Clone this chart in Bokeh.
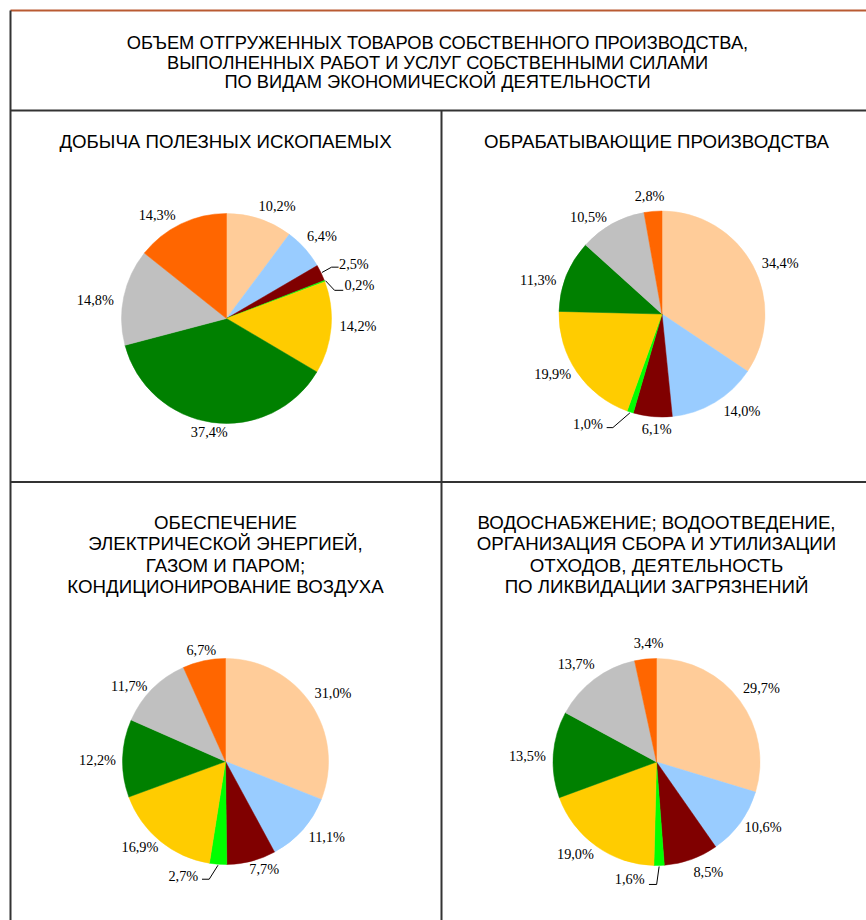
import math
from bokeh.plotting import figure
from bokeh.models import Range1d
from bokeh.core.properties import value
from bokeh.embed import file_html
from bokeh.resources import INLINE

# ---------------- data ----------------
main_title = [
    "ОБЪЕМ ОТГРУЖЕННЫХ ТОВАРОВ СОБСТВЕННОГО ПРОИЗВОДСТВА,",
    "ВЫПОЛНЕННЫХ РАБОТ И УСЛУГ СОБСТВЕННЫМИ СИЛАМИ",
    "ПО ВИДАМ ЭКОНОМИЧЕСКОЙ ДЕЯТЕЛЬНОСТИ",
]
panel_titles = [
    ["ДОБЫЧА ПОЛЕЗНЫХ ИСКОПАЕМЫХ"],
    ["ОБРАБАТЫВАЮЩИЕ ПРОИЗВОДСТВА"],
    ["ОБЕСПЕЧЕНИЕ", "ЭЛЕКТРИЧЕСКОЙ ЭНЕРГИЕЙ,", "ГАЗОМ И ПАРОМ;", "КОНДИЦИОНИРОВАНИЕ ВОЗДУХА"],
    ["ВОДОСНАБЖЕНИЕ; ВОДООТВЕДЕНИЕ,", "ОРГАНИЗАЦИЯ СБОРА И УТИЛИЗАЦИИ",
     "ОТХОДОВ, ДЕЯТЕЛЬНОСТЬ", "ПО ЛИКВИДАЦИИ ЗАГРЯЗНЕНИЙ"],
]
mining = [10.2, 6.4, 2.5, 0.2, 14.2, 37.4, 14.8, 14.3]
manufacturing = [34.4, 14.0, 6.1, 1.0, 19.9, 11.3, 10.5, 2.8]
energy = [31.0, 11.1, 7.7, 2.7, 16.9, 12.2, 11.7, 6.7]
water = [29.7, 10.6, 8.5, 1.6, 19.0, 13.5, 13.7, 3.4]
series = [mining, manufacturing, energy, water]
slice_colors = ["#FFCC99", "#99CCFF", "#800000", "#00FF00",
                "#FFCC00", "#008000", "#C0C0C0", "#FF6600"]

# ---------------- layout (page pixel coordinates) ----------------
W, H = 866, 920


def X(px):
    return px


def Y(py):
    return H - py


panels = [
    dict(cx=226, cy=318, r=105, tx=225, ty=141),
    dict(cx=661.5, cy=313.5, r=103, tx=656, ty=141),
    dict(cx=225, cy=761, r=103, tx=225, ty=521.5),
    dict(cx=656, cy=761.5, r=103.5, tx=656, ty=521.5),
]
# leader-line labels: (panel, slice) -> elbow dx,dy ; tail dx ; text dx,dy ; align
leaders = {
    (0, 2): (9.6, -5.3, 16.6, 17, -8, "left"),
    (0, 3): (9.0, 9.6, 17.7, 19, 4.6, "left"),
    (1, 3): (-17, 14.7, -23.2, -27, 11.4, "right"),
    (2, 3): (-8.8, 14, -16, -19.8, 10.3, "right"),
    (3, 3): (-2.5, 18, -10.2, -14.5, 13, "right"),
}
# small best-fit nudges (px) of the outside labels, per panel, per slice
nudges = [
    [(9, -1), (-3, -4), None, None, (0, -3), (1, -3), (-2, 6), (-12, 3)],
    [(3.5, 4), (13, -2), (6.5, -1), None, (-2, -6), (-3, 9.5), (-10.5, 4), (-1, -2)],
    [(0, -3.5), (4, -1), (6, -5), None, (-3, -4), (2, 2), (-4, 6), (3, 1.5)],
    [(0, -4.5), (1, -3), (8, 0), None, (-5, -3), (1, 2), (-2, -5), (6, -3)],
]

SANS = value("Liberation Sans")
SERIF = value("Liberation Serif")
LABEL_SIZE = "14.3px"

p = figure(width=W, height=H, output_backend="svg", toolbar_location=None,
           x_range=Range1d(0, W), y_range=Range1d(0, H), min_border=0,
           outline_line_color=None, background_fill_color="white")
p.axis.visible = False
p.grid.visible = False

# ---------------- table borders ----------------
p.segment(x0=[X(10)], y0=[Y(10)], x1=[X(866)], y1=[Y(10)], line_color="#B95A32", line_width=2)
p.segment(x0=[X(10)], y0=[Y(10)], x1=[X(10)], y1=[Y(920)], line_color="#333333", line_width=2)
p.segment(x0=[X(10), X(10)], y0=[Y(110), Y(481.5)], x1=[X(866), X(866)], y1=[Y(110), Y(481.5)],
          line_color="#333333", line_width=2)
p.segment(x0=[X(441)], y0=[Y(110)], x1=[X(441)], y1=[Y(920)], line_color="#333333", line_width=2)

# ---------------- main title ----------------
p.text(x=[X(437)] * 3, y=[Y(42), Y(61.5), Y(81)], text=main_title,
       text_font=SANS, text_font_size="18.3px", text_align="center",
       text_baseline="middle", text_color="#000000")


def fmt(v):
    return f"{v:.1f}".replace(".", ",") + "%"


for k, (vals, pan, ttl) in enumerate(zip(series, panels, panel_titles)):
    cx, cy, r = pan["cx"], pan["cy"], pan["r"]
    total = sum(vals)
    cum = 0.0
    starts, ends, mids = [], [], []
    for v in vals:
        a0 = cum / total * 2 * math.pi
        cum += v
        a1 = cum / total * 2 * math.pi
        starts.append(math.pi / 2 - a1)
        ends.append(math.pi / 2 - a0)
        mids.append((a0 + a1) / 2)
    p.wedge(x=[X(cx)] * len(vals), y=[Y(cy)] * len(vals), radius=r, radius_units="screen",
            start_angle=starts, end_angle=ends, direction="anticlock",
            fill_color=slice_colors, line_color=slice_colors, line_width=0.5)

    # panel title
    p.text(x=[X(pan["tx"])] * len(ttl), y=[Y(pan["ty"] + 21.5 * i) for i in range(len(ttl))],
           text=ttl, text_font=SANS, text_font_size="18.7px", text_align="center",
           text_baseline="middle", text_color="#000000")

    # labels
    lx, ly, lt = [], [], []
    for i, (v, th) in enumerate(zip(vals, mids)):
        s, c = math.sin(th), math.cos(th)
        if (k, i) in leaders:
            edx, edy, tdx, txd, tyd, al = leaders[(k, i)]
            px0, py0 = cx + (r + 1) * s, cy - (r + 1) * c
            p.line(x=[X(px0), X(px0 + edx), X(px0 + tdx)],
                   y=[Y(py0), Y(py0 + edy), Y(py0 + edy)],
                   line_color="black", line_width=1)
            p.text(x=[X(px0 + txd)], y=[Y(py0 + tyd)], text=[fmt(v)],
                   text_font=SERIF, text_font_size=LABEL_SIZE, text_align=al,
                   text_baseline="middle", text_color="#000000")
        else:
            ndx, ndy = nudges[k][i] or (0, 0)
            lx.append(X(cx + (r + 27) * s + ndx))
            ly.append(Y(cy - (r + 13) * c + ndy))
            lt.append(fmt(v))
    p.text(x=lx, y=ly, text=lt, text_font=SERIF, text_font_size=LABEL_SIZE,
           text_align="center", text_baseline="middle", text_color="#000000")

open("out.html", "w").write(file_html(p, INLINE))
